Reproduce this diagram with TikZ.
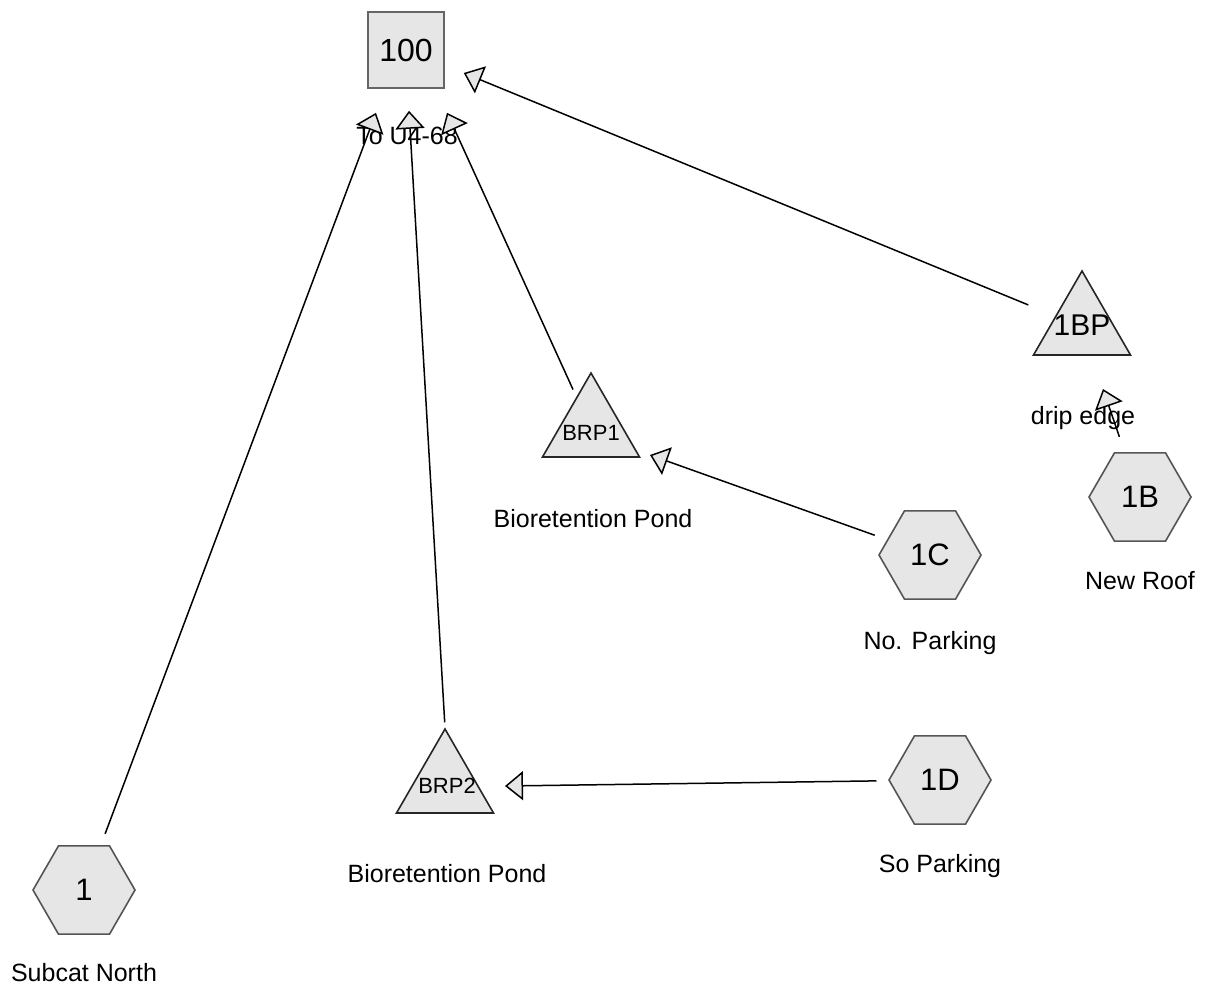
\documentclass[tikz,border=0pt]{standalone}
\usepackage{fontspec}
\setmainfont{Liberation Sans}
\usetikzlibrary{shapes.geometric,arrows.meta,calc}
\definecolor{shapefill}{HTML}{E6E6E6}
\definecolor{hexline}{HTML}{555555}
\definecolor{boxline}{HTML}{666666}
\begin{document}
\begin{tikzpicture}[x=1pt,y=-1pt,
 hexnode/.style={regular polygon, regular polygon sides=6, minimum size=102pt, inner sep=0pt, draw=hexline, fill=shapefill, line width=1.6pt, font=\fontsize{31}{31}\selectfont},
 pondnode/.style={regular polygon, regular polygon sides=3, minimum size=112pt, inner sep=0pt, draw=black!85, fill=shapefill, line width=1.6pt},
 reachnode/.style={rectangle, minimum size=76pt, inner sep=0pt, draw=boxline, fill=shapefill, line width=1.6pt, font=\fontsize{32}{32}\selectfont},
 lbl/.style={inner sep=0pt, font=\fontsize{25}{25}\selectfont, text height=18pt, text depth=0pt},
 intext/.style={inner sep=0pt, text height=0.72em, text depth=0pt},
 flow/.style={line width=1.5pt, -{Triangle[length=18pt,width=29pt,fill=shapefill]}}
]
\useasboundingbox (0,0) rectangle (1207,994);
% nodes
\node[reachnode] (n100) at (406,50) {100};
\node[hexnode] (h1) at (84,890) {1};
\node[hexnode] (h1c) at (930,555) {1C};
\node[hexnode] (h1d) at (940,780) {1D};
\node[hexnode] (h1b) at (1140,497) {1B};
\node[pondnode] (brp1) at (591,429) {};
\node[pondnode] (brp2) at (445,785) {};
\node[pondnode] (bp1) at (1082,327) {};
\node[intext, font=\fontsize{22}{22}\selectfont] (brp1t) at (591,437) {BRP1};
\node[intext, font=\fontsize{22}{22}\selectfont] (brp2t) at (447,790) {BRP2};
\node[intext, font=\fontsize{30}{30}\selectfont] (bp1t) at (1082,332) {1BP};
% labels
\node[lbl] (t100) at (407,135) {To U4-68};
\node[lbl] (tbp) at (1083,415) {drip edge};
\node[lbl] (tbrp1) at (593,518) {Bioretention Pond};
\node[lbl] (tbrp2) at (447,873) {Bioretention Pond};
\node[lbl] (t1c) at (930,640) {No. Parking};
\node[lbl] (t1b) at (1140,580) {New Roof};
\node[lbl] (t1d) at (940,863) {So Parking};
\node[lbl] (t1) at (84,972) {Subcat North};
% connectors
\draw[flow, shorten <=12pt] (h1) -- ($(n100.south)+(-30,24)$);
\draw[flow, shorten <=5pt] (brp2.north) -- ($(n100.south)+(3,22)$);
\draw[flow, shorten <=8pt] (brp1) -- ($(n100.south)+(41,24)$);
\draw[flow, shorten <=29pt] (bp1) -- ($(n100.east)+(19,23)$);
\draw[flow, shorten <=13pt] (h1c) -- ($(brp1.center)+(59,26)$);
\draw[flow, shorten <=12pt] (h1d) -- ($(brp2.center)+(60,1)$);
\draw[flow, shorten <=16pt] (h1b) -- ($(bp1.center)+(21,62)$);
\end{tikzpicture}
\end{document}
